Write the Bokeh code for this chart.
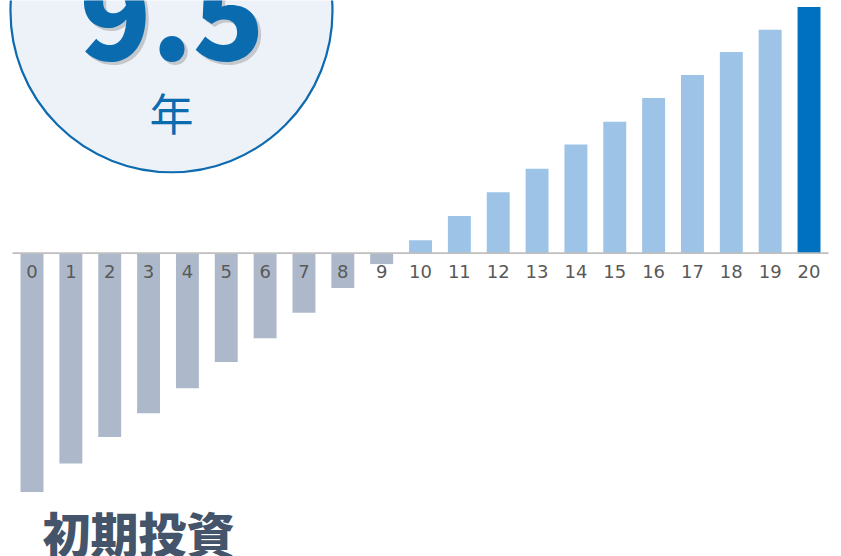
from bokeh.plotting import figure
from bokeh.models import Range1d, ColumnDataSource
from bokeh.core.properties import value
from bokeh.embed import file_html
from bokeh.resources import INLINE

# ---- data ----
years = list(range(0, 21))
tick_labels = [str(y) for y in years]
cash_flow = [-100, -88, -77, -67, -56.5, -45.6, -35.6, -25, -14.6, -4.6,
             5.4, 15.5, 25.5, 35.3, 45.4, 55, 64.9, 74.5, 84.1, 93.5, 103]
payback_value = "9.5"
payback_unit = "年"
title_text = "初期投資"

NEG = "#ADB9CA"
POS = "#9DC3E6"
LAST = "#0070C0"
colors = [NEG if v < 0 else POS for v in cash_flow]
colors[-1] = LAST

W, H = 841, 556
p = figure(width=W, height=H, output_backend="svg", toolbar_location=None,
           x_range=Range1d(-0.811, 20.836), y_range=Range1d(-126.95, 105.69),
           min_border=0, x_axis_location=None, y_axis_location=None)
p.outline_line_color = None
p.grid.visible = False

# badge circle
p.scatter(x=[3.59], y=[101.2], size=322, marker="circle",
          fill_color="#EDF2F9", line_color="#0E6BAF", line_width=2.2)

# bars
src = ColumnDataSource(dict(x=years, top=cash_flow, color=colors, label=tick_labels,
                            ly=[-7.57] * len(years)))
p.vbar(x="x", top="top", bottom=0, width=0.59, fill_color="color",
       line_color=None, source=src)

# axis line
p.segment(x0=[years[0] - 0.5], x1=[years[-1] + 0.5], y0=[0], y1=[0],
          line_color="#BFBFBF", line_width=1.6)

# tick labels
p.text(x="x", y="ly", text="label", source=src, text_align="center",
       text_baseline="middle", text_font=value("DejaVu Sans"),
       text_font_size="18px", text_color="#595959")


def add_text(x, y, s, font, size, color, align="center", alpha=1.0):
    cds = ColumnDataSource(dict(x=[x], y=[y], t=[s]))
    p.text(x="x", y="y", text="t", source=cds, text_align=align,
           text_baseline="middle", text_font=value(font),
           text_font_size=size, text_color=color, text_alpha=alpha)


# big number with soft shadow
add_text(3.604 + 0.08, 99.2 - 1.3, payback_value, "Noto Sans CJK JP Black",
         "118px", "#5A5A5A", alpha=0.28)
add_text(3.604, 99.2, payback_value, "Noto Sans CJK JP Black", "118px", "#0B6BAF")
add_text(3.59, 59.0, payback_unit, "Noto Sans CJK JP", "44px", "#0B6BAF")

# title
add_text(0.27, -116.5, title_text, "Noto Sans CJK JP Black", "48px", "#44546A",
         align="left")

open("out.html", "w").write(file_html(p, INLINE))
